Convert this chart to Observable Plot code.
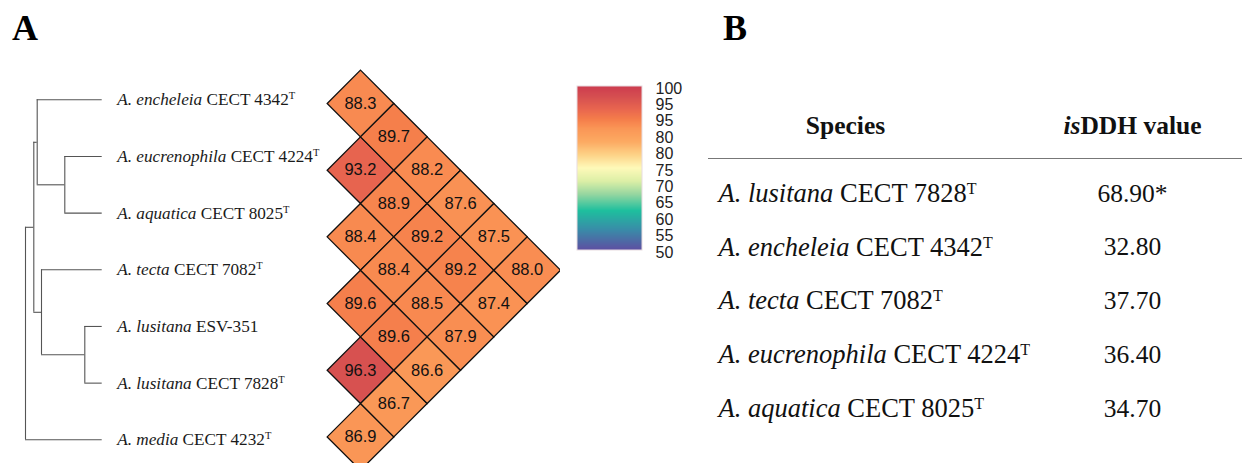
<!DOCTYPE html>
<html><head><meta charset="utf-8">
<script src="https://cdn.jsdelivr.net/npm/d3@7"></script>
<script src="https://cdn.jsdelivr.net/npm/@observablehq/plot@0.6"></script>
<style>
html,body{margin:0;padding:0;background:#fff;}
#fig{position:relative;width:1242px;height:463px;overflow:hidden;background:#fff;}
#fig > .panel{position:absolute;top:0;}
.tag{position:absolute;top:10px;font-family:"Liberation Serif",serif;font-weight:bold;font-size:36px;line-height:36px;color:#000;}
</style></head><body>
<div id="fig"></div>
<script>
// ---------------- data ----------------
const leafKeys   = ["enc", "euc", "aqu", "tec", "lusE", "lusC", "med"];
const leafItalic = ["A. encheleia", "A. eucrenophila", "A. aquatica", "A. tecta", "A. lusitana", "A. lusitana", "A. media"];
const leafStrain = ["CECT 4342", "CECT 4224", "CECT 8025", "CECT 7082", "ESV-351", "CECT 7828", "CECT 4232"];
const leafType   = [true, true, true, true, false, true, true];

// dendrogram topology (parent of each node) and node depth (branch-length units)
const nodeIds     = ["root", "n1", "n2", "n3", "n4", "n5", "enc", "euc", "aqu", "tec", "lusE", "lusC", "med"];
const nodeParents = [null, "root", "n1", "n2", "n1", "n4", "n2", "n3", "n3", "n4", "n5", "n5", "root"];
const nodeDepths  = [0, 8.3, 11.7, 39.3, 16, 59.3, 76.7, 76.7, 76.7, 76.7, 76.7, 76.7, 76.7];

// ANI heatmap (pairs of leaves, i < j)
const aniRow    = [0, 1, 2, 3, 4, 5,  0, 1, 2, 3, 4,  0, 1, 2, 3,  0, 1, 2,  0, 1,  0];
const aniCol    = [1, 2, 3, 4, 5, 6,  2, 3, 4, 5, 6,  3, 4, 5, 6,  4, 5, 6,  5, 6,  6];
const aniValues = [88.3, 93.2, 88.4, 89.6, 96.3, 86.9,
                   89.7, 88.9, 88.4, 89.6, 86.7,
                   88.2, 89.2, 88.5, 86.6,
                   87.6, 89.2, 87.9,
                   87.5, 87.4,
                   88.0];

// colour legend
const legendLabels = ["100", "95", "95", "80", "80", "75", "70", "65", "60", "55", "50"];
const colorStops   = [50, 56, 62, 67, 71, 75, 79, 83, 87, 88, 90, 93, 96.5, 100];
const colorValues  = ["#5e4fa2", "#3a8aa8", "#1ebf9e", "#96d6a0", "#dcefa6", "#fef9b9", "#fdd287",
                      "#fcaa62", "#fa9656", "#f98d52", "#f47c4a", "#e8654f", "#d65050", "#cc3b4f"];

// table B
const tableItalic = ["A. lusitana", "A. encheleia", "A. tecta", "A. eucrenophila", "A. aquatica"];
const tableStrain = ["CECT 7828", "CECT 4342", "CECT 7082", "CECT 4224", "CECT 8025"];
const tableValues = [68.90, 32.80, 37.70, 36.40, 34.70];
const tableStar   = [true, false, false, false, false];
const tableHeaders = ["Species", "isDDH value"];

// ---------------- helpers ----------------
const SVGNS = "http://www.w3.org/2000/svg";
function richText(svg, tag, partsFn) {
  svg.querySelectorAll(`g[aria-description="${tag}"] text`).forEach((t, k) => {
    const parts = partsFn(k);
    t.textContent = "";
    for (const p of parts) {
      const ts = document.createElementNS(SVGNS, "tspan");
      if (p.italic) ts.setAttribute("font-style", "italic");
      if (p.size) ts.setAttribute("font-size", p.size);
      if (p.dy) ts.setAttribute("dy", p.dy);
      ts.textContent = p.t;
      t.appendChild(ts);
    }
  });
}
const fig = document.getElementById("fig");
function place(el, left) {
  el.classList.add("panel");
  el.style.left = left + "px";
  fig.appendChild(el);
}
const colorScale = {type: "linear", domain: colorStops, range: colorValues};
const serif = "Liberation Serif, Times New Roman, serif";
const sans = "Liberation Sans, Arial, sans-serif";

// ---------------- panel A: dendrogram ----------------
const treeData = nodeIds.map((id, i) => ({id, parent: nodeParents[i], depth: nodeDepths[i]}));
const root = d3.stratify().id(d => d.id).parentId(d => d.parent)(treeData);
root.eachAfter(n => {
  n.yy = n.children ? d3.mean(n.children, c => c.yy) : leafKeys.indexOf(n.id);
});
const hSeg = root.descendants().filter(n => n.parent).map(n => ({x1: n.parent.data.depth, x2: n.data.depth, y: n.yy}));
const vSeg = root.descendants().filter(n => n.children).map(n => ({
  x: n.data.depth, y1: d3.min(n.children, c => c.yy), y2: d3.max(n.children, c => c.yy)
}));
const leaves = leafKeys.map((k, i) => ({i, depth: nodeDepths[nodeIds.indexOf(k)]}));

const tree = Plot.plot({
  width: 336, height: 463,
  x: {domain: [0, 76.7], range: [25, 101.7], axis: null},
  y: {domain: [0, 6], range: [99.3, 439.3], axis: null},
  style: {background: "transparent"},
  marks: [
    Plot.ruleY(hSeg, {y: "y", x1: "x1", x2: "x2", stroke: "#555", strokeWidth: 1.1}),
    Plot.ruleX(vSeg, {x: "x", y1: "y1", y2: "y2", stroke: "#555", strokeWidth: 1.1}),
    Plot.text(leaves, {
      x: "depth", y: "i", text: d => leafItalic[d.i] + " " + leafStrain[d.i] + (leafType[d.i] ? "T" : ""),
      dx: 15, textAnchor: "start", lineAnchor: "middle", fontSize: 17.2,
      fontFamily: serif, fill: "#1a1a1a", ariaDescription: "leaf-labels"
    })
  ]
});
richText(tree, "leaf-labels", k => {
  const i = leaves[k].i;
  const p = [{t: leafItalic[i], italic: true}, {t: " " + leafStrain[i]}];
  if (leafType[i]) p.push({t: "T", size: 10.5, dy: "-6"});
  return p;
});
place(tree, 0);

// ---------------- panel A: ANI heatmap ----------------
const cells = aniValues.map((v, k) => ({row: aniRow[k], col: aniCol[k], v}));
const hx = {domain: [1, 6], range: [40, 206.7]};
const half = (hx.range[1] - hx.range[0]) / (hx.domain[1] - hx.domain[0]);
const diamond = {
  draw(ctx, size) {
    const h = Math.sqrt(size / Math.PI);
    ctx.moveTo(0, -h); ctx.lineTo(h, 0); ctx.lineTo(0, h); ctx.lineTo(-h, 0); ctx.closePath();
  }
};
const heat = Plot.plot({
  width: 240, height: 463,
  x: {...hx, axis: null},
  y: {domain: [1, 11], range: [103, 103 + 10 * half], axis: null},
  color: colorScale,
  style: {background: "transparent"},
  marks: [
    Plot.dot(cells, {x: d => d.col - d.row, y: d => d.row + d.col, r: half, symbol: diamond,
      fill: "v", stroke: "#111", strokeWidth: 1.3}),
    Plot.text(cells, {x: d => d.col - d.row, y: d => d.row + d.col, text: d => d.v.toFixed(1),
      fontSize: 16.5, fontFamily: sans, fill: "#111"})
  ]
});
place(heat, 320);

// ---------------- panel A: colour legend ----------------
const nSteps = 164;
const steps = d3.range(nSteps).map(k => 50 + k * 50 / nSteps);
const legend = Plot.plot({
  width: 140, height: 463,
  x: {domain: [0, 1], range: [17, 82], axis: null},
  y: {domain: [50, 100], range: [250, 86], axis: null},
  color: colorScale,
  style: {background: "transparent"},
  marks: [
    Plot.rect(steps, {x1: 0, x2: 1, y1: d => d, y2: d => d + 50 / nSteps + 0.05,
      fill: d => d + 25 / nSteps, shapeRendering: "crispEdges"}),
    Plot.rect([0], {x1: 0, x2: 1, y1: 50, y2: 100, fill: "none", stroke: "#e8dce0", strokeWidth: 1}),
    Plot.text(legendLabels, {x: 1, y: (d, i) => 100 - 5 * i, text: d => d, dx: 13, dy: 2,
      textAnchor: "start", fontSize: 16, fontFamily: sans, fill: "#222"})
  ]
});
place(legend, 560);

// ---------------- panel B: isDDH table ----------------
const rows = tableValues.map((v, i) => ({i, v}));
const table = Plot.plot({
  width: 542, height: 463,
  marginLeft: 8, marginRight: 0,
  x: {domain: [0, 1], range: [18, 432], axis: null},
  y: {domain: [0, 4], range: [193, 408], axis: null},
  style: {background: "transparent"},
  marks: [
    Plot.ruleY([0], {dy: -35, stroke: "#777", strokeWidth: 1.2}),
    Plot.text([tableHeaders[0]], {x: 0, y: 0, dx: 127, dy: -68, text: d => d,
      textAnchor: "middle", lineAnchor: "middle", fontSize: 25.5, fontWeight: "bold",
      fontFamily: serif, fill: "#111"}),
    Plot.text([tableHeaders[1]], {x: 1, y: 0, dy: -68, text: d => d,
      textAnchor: "middle", lineAnchor: "middle", fontSize: 25.5, fontWeight: "bold",
      fontFamily: serif, fill: "#111", ariaDescription: "isddh-header"}),
    Plot.text(rows, {x: 0, y: "i", text: d => tableItalic[d.i] + " " + tableStrain[d.i] + "T",
      textAnchor: "start", lineAnchor: "middle", fontSize: 26.5,
      fontFamily: serif, fill: "#111", ariaDescription: "table-species"}),
    Plot.text(rows, {x: 1, y: "i", text: d => d.v.toFixed(2) + (tableStar[d.i] ? "*" : ""),
      textAnchor: "middle", lineAnchor: "middle", fontSize: 25.5,
      fontFamily: serif, fill: "#111"})
  ]
});
richText(table, "isddh-header", () => [{t: "is", italic: true}, {t: "DDH value"}]);
richText(table, "table-species", k => [
  {t: tableItalic[k], italic: true}, {t: " " + tableStrain[k]}, {t: "T", size: 16, dy: "-8"}
]);
place(table, 700);

// panel tags
for (const [txt, left] of [["A", 12], ["B", 723]]) {
  const d = document.createElement("div");
  d.className = "tag"; d.style.left = left + "px"; d.textContent = txt;
  fig.appendChild(d);
}
</script>
</body></html>
